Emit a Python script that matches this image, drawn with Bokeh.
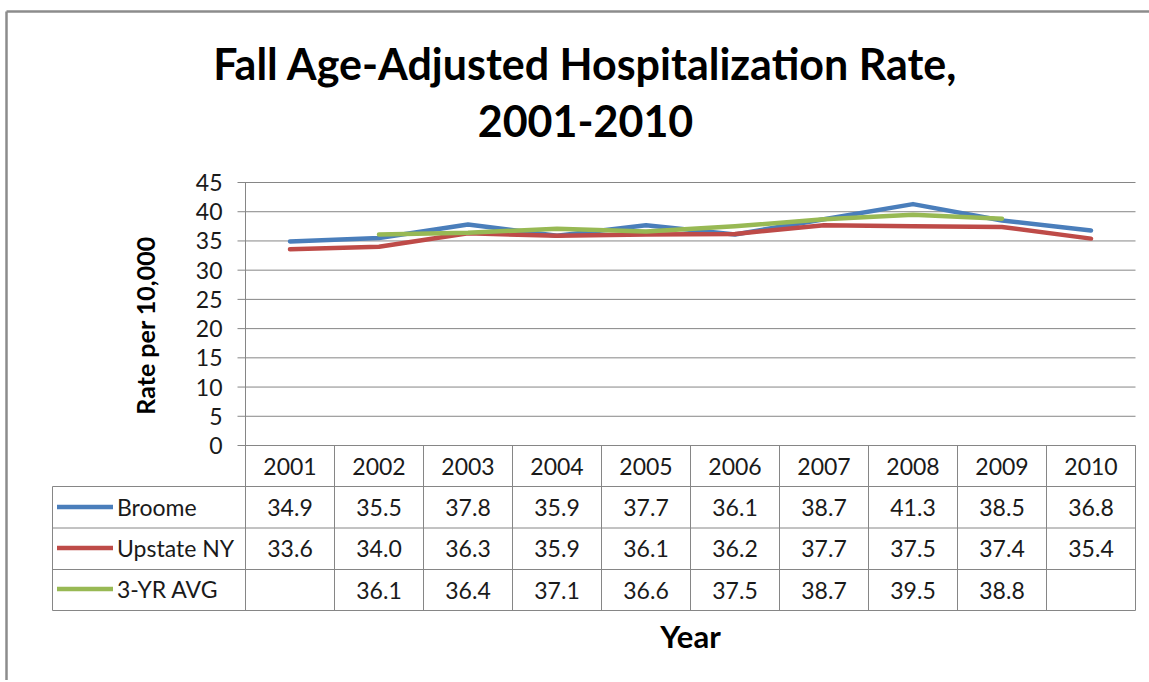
import math
from bokeh.plotting import figure
from bokeh.models import Range1d, Legend, LegendItem
from bokeh.core.properties import value
from bokeh.embed import file_html
from bokeh.resources import INLINE

# ---------------- data ----------------
years = ["2001", "2002", "2003", "2004", "2005", "2006", "2007", "2008", "2009", "2010"]
broome = [34.9, 35.5, 37.8, 35.9, 37.7, 36.1, 38.7, 41.3, 38.5, 36.8]
upstate = [33.6, 34.0, 36.3, 35.9, 36.1, 36.2, 37.7, 37.5, 37.4, 35.4]
avg3 = [None, 36.1, 36.4, 37.1, 36.6, 37.5, 38.7, 39.5, 38.8, None]
series_names = ["Broome", "Upstate NY", "3-YR AVG"]
y_ticks = [0, 5, 10, 15, 20, 25, 30, 35, 40, 45]
title_lines = ["Fall Age-Adjusted Hospitalization Rate,", "2001-2010"]
y_title = "Rate per 10,000"
x_title = "Year"

# ---------------- layout (canvas pixels) ----------------
W, H = 1149, 680
PX0, PX1 = 245, 1135          # plot area left/right
PY_TOP, PY_ZERO = 182, 445    # y = 45 and y = 0 lines
ROW_PX = [445, 486, 527.5, 569, 610]   # table row boundaries
LEG_X0 = 52                   # table legend column left
TICK_OUT = 8

FONT = "Lato"
GRID = "#868686"
TXT = "#1a1a1a"
COLORS = ["#4A7EBB", "#BE4B48", "#98B954"]
FS = "23px"

n = len(years)
ppu_y = (PY_ZERO - PY_TOP) / y_ticks[-1]
ppu_x = (PX1 - PX0) / n


def yd(py):
    return y_ticks[-1] - (py - PY_TOP) / ppu_y


def xd(px):
    return -0.5 + (px - PX0) / ppu_x


p = figure(width=W, height=H, output_backend="svg", toolbar_location=None,
           x_range=Range1d(xd(0), xd(W)), y_range=Range1d(yd(H), yd(0)),
           x_axis_location=None, y_axis_location=None, min_border=0)
p.outline_line_color = None
p.background_fill_color = "white"
p.border_fill_color = "white"
p.grid.visible = False

# ---------------- gridlines, axis, tick labels ----------------
gx0 = xd(PX0 - TICK_OUT)
gx1 = xd(PX1)
p.segment(x0=[gx0] * len(y_ticks), x1=[gx1] * len(y_ticks), y0=y_ticks, y1=y_ticks,
          line_color=GRID, line_width=1)
p.text(x=[xd(222)] * len(y_ticks), y=y_ticks, text=[str(t) for t in y_ticks],
       text_align="right", text_baseline="middle", text_font=value(FONT),
       text_font_size=FS, text_color=TXT)

# ---------------- lines ----------------
xs = list(range(n))
series = [broome, upstate, avg3]
renderers = []
for vals, col in zip(series, COLORS):
    ys = [float("nan") if v is None else v for v in vals]
    r = p.line(xs, ys, line_color=col, line_width=4.5, line_join="round", line_cap="round")
    renderers.append(r)

# ---------------- data table ----------------
row_y = [yd(v) for v in ROW_PX]
# horizontal lines: header top spans columns only, others include legend column
hx0 = [-0.5] + [xd(LEG_X0)] * (len(row_y) - 1)
p.segment(x0=hx0, x1=[n - 0.5] * len(row_y), y0=row_y, y1=row_y,
          line_color=GRID, line_width=1)
# vertical lines (first one = y axis line from top of plot)
vx = [i - 0.5 for i in range(n + 1)]
vy0 = [y_ticks[-1]] + [row_y[0]] * n
p.segment(x0=vx, x1=vx, y0=vy0, y1=[row_y[-1]] * len(vx), line_color=GRID, line_width=1)
p.segment(x0=[xd(LEG_X0)], x1=[xd(LEG_X0)], y0=[row_y[1]], y1=[row_y[-1]],
          line_color=GRID, line_width=1)

# header (years)
hdr_y = (row_y[0] + row_y[1]) / 2
p.text(x=xs, y=[hdr_y] * n, text=years, text_align="center", text_baseline="middle",
       text_font=value(FONT), text_font_size=FS, text_color=TXT)

# values
for k, vals in enumerate(series):
    cy = (row_y[k + 1] + row_y[k + 2]) / 2
    tx = [i for i, v in enumerate(vals) if v is not None]
    tt = ["%.1f" % v for v in vals if v is not None]
    p.text(x=tx, y=[cy] * len(tx), text=tt, text_align="center", text_baseline="middle",
           text_font=value(FONT), text_font_size=FS, text_color=TXT)

# legend keys in the table's first column
legend = Legend(items=[LegendItem(label=nm, renderers=[r]) for nm, r in zip(series_names, renderers)],
                location=(57, H - ROW_PX[-1] + 1), orientation="vertical",
                glyph_width=56, glyph_height=41, label_height=41, spacing=0, padding=0, margin=0,
                label_standoff=4, border_line_color=None, background_fill_alpha=0,
                label_text_font=FONT, label_text_font_size=FS, label_text_color=TXT,
                label_text_baseline="middle")
p.add_layout(legend)

# ---------------- titles ----------------
p.text(x=[xd(585)] * 2, y=[yd(63), yd(120)], text=title_lines, text_align="center",
       text_baseline="middle", text_font=value(FONT), text_font_style="bold",
       text_font_size="43px", text_color="black")
p.text(x=[xd(144)], y=[yd(325)], text=[y_title], angle=math.pi / 2, text_align="center",
       text_baseline="middle", text_font=value(FONT), text_font_style="bold",
       text_font_size="25px", text_color="black")
p.text(x=[xd(690)], y=[yd(635)], text=[x_title], text_align="center",
       text_baseline="middle", text_font=value(FONT), text_font_style="bold",
       text_font_size="31px", text_color="black")

# ---------------- chart border ----------------
p.multi_line(xs=[[xd(6), xd(6)], [xd(6), xd(W + 20)]], ys=[[yd(H + 20), yd(11)], [yd(11), yd(11)]],
             line_color="#8c8c8c", line_width=2.5)

open("out.html", "w").write(file_html(p, INLINE))
